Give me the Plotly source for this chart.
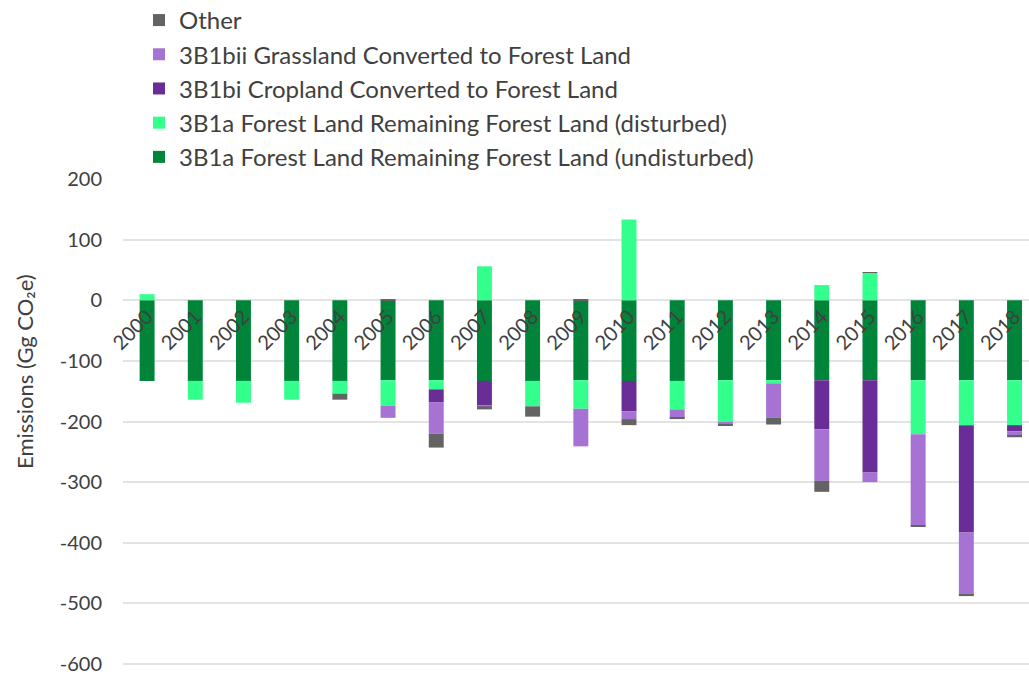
import plotly.graph_objects as go

# emissions by category, Gg CO2e
years = [str(y) for y in range(2000, 2019)]

undisturbed = [-133, -133, -133, -133, -133, -132, -132, -133, -133, -132,
               -133, -133, -132, -132, -132, -132, -132, -132, -132]
disturbed = [10, -31, -36, -31, -21, -42, -15, 56, -42, -47,
             133, -47, -69, -5, 25, 45, -89, -74, -74]
cropland = [0, 0, 0, 0, 0, 0, -21, -40, 0, 0,
            -50, 0, -1, 0, -81, -152, 0, -177, -10]
grassland = [0, 0, 0, 0, 0, -20, -52, -2, 0, -62,
             -13, -14, -3, -57, -85, -16, -151, -103, -7]
other = [0, 0, 0, 0, -10, 1, -23, -5, -17, 2,
         -10, -2, -1, -11, -18, 1.5, -2, -2, -3]

yticks = [200, 100, 0, -100, -200, -300, -400, -500, -600]
yticklabels = ["200", "100", "0", "-100", "-200", "-300", "-400", "-500", "-600"]

series = [
    ("3B1a Forest Land Remaining Forest Land (undisturbed)", undisturbed, "#00843a"),
    ("3B1a Forest Land Remaining Forest Land (disturbed)", disturbed, "#33ff8c"),
    ("3B1bi Cropland Converted to Forest Land", cropland, "#6a2c96"),
    ("3B1bii Grassland Converted to Forest Land", grassland, "#a673d4"),
    ("Other", other, "#636363"),
]

fig = go.Figure()
for name, vals, col in series:
    fig.add_trace(go.Bar(x=years, y=vals, name=name, marker_color=col,
                         marker_line_width=0))

W, H = 1029, 677
ml = 123
ph = H                 # no top/bottom margin
pw = W - ml
ytop_px = 179          # pixel row of the 200 gridline
px_per_unit = 485 / 800
ymin = 200 - (ph - ytop_px) / px_per_unit
ydom_top = (ph - ytop_px) / ph
zero_px = ytop_px + 200 * px_per_unit

font = "Lato, 'Open Sans', sans-serif"
fig.update_layout(
    barmode="relative",
    bargap=0.69,
    width=W, height=H,
    margin=dict(l=ml, r=0, t=0, b=0, autoexpand=False),
    plot_bgcolor="white", paper_bgcolor="white",
    font=dict(family=font, color="#404040"),
    showlegend=True,
    legend=dict(traceorder="reversed",
                x=(139 - ml) / pw, y=1.003, xanchor="left", yanchor="top",
                font=dict(size=24, color="#404040"), itemwidth=30,
                bgcolor="rgba(0,0,0,0)"),
    xaxis=dict(type="category", range=[-0.5, 18.3], anchor="free",
               position=(ph - zero_px) / ph, tickangle=-45, showgrid=False,
               showline=False, ticks="", tickmode="array", tickvals=years,
               tickfont=dict(size=20, color="#404040"), automargin=False),
    yaxis=dict(domain=[0, ydom_top], range=[ymin, 200],
               tickmode="array", tickvals=yticks, ticktext=yticklabels,
               showgrid=True, gridcolor="#e3e3e3", gridwidth=1.5,
               zeroline=False, showline=False, ticklabeloverflow="allow",
               tickfont=dict(size=20, color="#404040"), ticklabelstandoff=20,
               automargin=False),
    annotations=[dict(text="Emissions (Gg CO\u2082e)", xref="paper", yref="paper",
                      x=(24 - ml) / pw, y=(ph - 372) / ph, textangle=-90,
                      showarrow=False, font=dict(size=22, color="#404040"),
                      xanchor="center", yanchor="middle")],
)

# drop the default page margin so the chart fills the window
fig.write_html("out.html", config={"displayModeBar": False},
               post_script="document.body.style.margin='0';")
